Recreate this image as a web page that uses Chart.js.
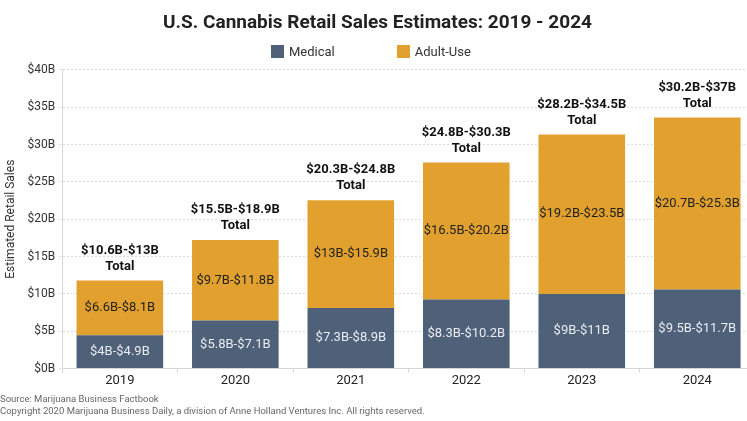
<!DOCTYPE html>
<html>
<head>
<meta charset="utf-8">
<script src="https://cdn.jsdelivr.net/npm/chart.js@4"></script>
<style>
  body { margin: 0; background: #fff; overflow: hidden; }
  #wrap { position: absolute; left: 0; top: 0; width: 755px; height: 421px; }
  #legend { position: absolute; top: 44px; left: 271px; font: 13px Roboto, sans-serif; color: #333; white-space: nowrap; }
  #legend span.item { display: inline-block; margin-right: 62px; }
  #legend span.box { display: inline-block; width: 13px; height: 13px; vertical-align: -2px; margin-right: 5px; }
</style>
</head>
<body>
<div id="wrap">
  <canvas id="sales" width="755" height="421"></canvas>
  <div id="legend"></div>
</div>
<script>
const FONT = "Roboto, sans-serif";

// Retail sales, midpoints of the estimate ranges ($B)
const years = ["2019", "2020", "2021", "2022", "2023", "2024"];
const medical = [4.45, 6.45, 8.1, 9.25, 10.0, 10.6];
const adultUse = [7.35, 10.75, 14.45, 18.35, 21.35, 23.0];
const medicalLabels = ["$4B-$4.9B", "$5.8B-$7.1B", "$7.3B-$8.9B", "$8.3B-$10.2B", "$9B-$11B", "$9.5B-$11.7B"];
const adultLabels = ["$6.6B-$8.1B", "$9.7B-$11.8B", "$13B-$15.9B", "$16.5B-$20.2B", "$19.2B-$23.5B", "$20.7B-$25.3B"];
const totalLabels = ["$10.6B-$13B", "$15.5B-$18.9B", "$20.3B-$24.8B", "$24.8B-$30.3B", "$28.2B-$34.5B", "$30.2B-$37B"];
const yTicks = [0, 5, 10, 15, 20, 25, 30, 35, 40];

const blue = "#4f6079";
const orange = "#e2a12e";

// text inside the bars and totals above them
const barLabels = {
  id: "barLabels",
  afterDatasetsDraw(chart) {
    const ctx = chart.ctx;
    ctx.save();
    ctx.textAlign = "center";
    ctx.textBaseline = "middle";
    const segs = [[medicalLabels, "#e9ecf0"], [adultLabels, "#222"]];
    segs.forEach(([labels, color], di) => {
      chart.getDatasetMeta(di).data.forEach((bar, i) => {
        ctx.font = "13px " + FONT;
        ctx.fillStyle = color;
        ctx.fillText(labels[i], bar.x, (bar.y + bar.base) / 2);
      });
    });
    chart.getDatasetMeta(1).data.forEach((bar, i) => {
      ctx.font = "bold 13px " + FONT;
      ctx.fillStyle = "#111";
      ctx.fillText(totalLabels[i], bar.x, bar.y - 30);
      ctx.fillText("Total", bar.x, bar.y - 14);
    });
    ctx.restore();
  }
};

new Chart("sales", {
  type: "bar",
  data: {
    labels: years,
    datasets: [
      { label: "Medical", data: medical, backgroundColor: blue },
      { label: "Adult-Use", data: adultUse, backgroundColor: orange }
    ]
  },
  options: {
    responsive: false,
    animation: false,
    layout: { padding: { left: 0, right: 0, top: 0, bottom: 4 } },
    datasets: { bar: { barPercentage: 0.75, categoryPercentage: 1 } },
    plugins: {
      legend: { display: false },
      tooltip: { enabled: false },
      title: {
        display: true,
        text: "U.S. Cannabis Retail Sales Estimates: 2019 - 2024",
        color: "#222",
        font: { family: FONT, size: 19, weight: "bold" },
        padding: { top: 12, bottom: 35 }
      },
      subtitle: {
        display: true,
        position: "bottom",
        align: "start",
        text: ["Source: Marijuana Business Factbook",
               "Copyright 2020 Marijuana Business Daily, a division of Anne Holland Ventures Inc. All rights reserved."],
        color: "#666",
        font: { family: FONT, size: 9.5 },
        padding: { top: 6, bottom: 0 }
      }
    },
    scales: {
      x: {
        stacked: true,
        border: { color: "#d6d6d6" },
        grid: { offset: true, drawOnChartArea: false, tickLength: 4, color: "#d6d6d6" },
        ticks: { color: "#222", padding: 0, font: { family: FONT, size: 13 } }
      },
      y: {
        stacked: true,
        min: 0,
        max: 40,
        afterBuildTicks: (axis) => { axis.ticks = yTicks.map(v => ({ value: v })); },
        border: { color: "#d6d6d6", dash: [2, 2] },
        grid: { color: "#dcdcdc", tickLength: 3, tickBorderDash: [2, 2] },
        ticks: {
          color: "#333",
          padding: 4,
          font: { family: FONT, size: 12 },
          callback: (v) => "$" + v + "B"
        },
        title: {
          display: true,
          text: "Estimated Retail Sales",
          color: "#333",
          font: { family: FONT, size: 12 },
          padding: { top: 4, bottom: 5 }
        }
      }
    }
  },
  plugins: [barLabels]
});

// html legend
const legend = document.getElementById("legend");
[["Medical", blue], ["Adult-Use", orange]].forEach(([name, color]) => {
  const item = document.createElement("span");
  item.className = "item";
  item.innerHTML = `<span class="box" style="background:${color}"></span>${name}`;
  legend.appendChild(item);
});
</script>
</body>
</html>
